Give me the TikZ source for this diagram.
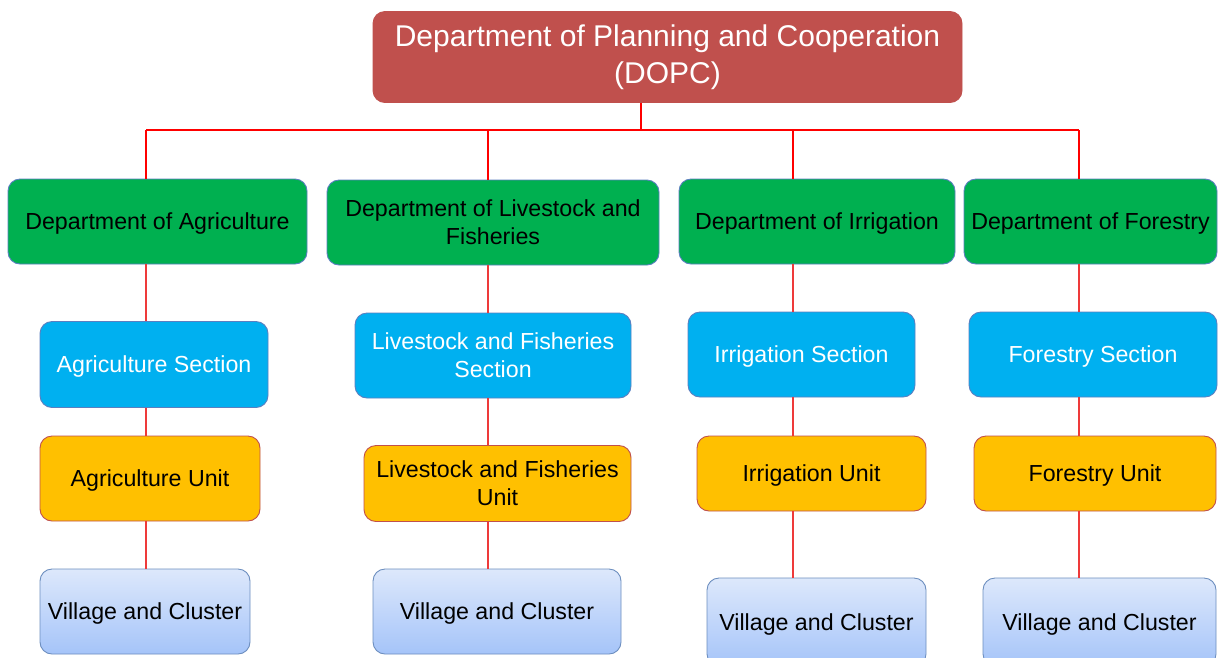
\documentclass[tikz,border=0pt]{standalone}
\usepackage{fontspec}
\setmainfont{Liberation Sans}
\definecolor{topred}{HTML}{C0504D}
\definecolor{dgreen}{HTML}{00B050}
\definecolor{sblue}{HTML}{00B0F0}
\definecolor{uorange}{HTML}{FFC000}
\definecolor{bblue}{HTML}{5B7FC0}
\definecolor{vtop}{HTML}{DDE8FB}
\definecolor{vbot}{HTML}{A5C4F9}
\definecolor{vborder}{HTML}{6C8EBF}
\definecolor{linkred}{HTML}{EE3A3A}
\tikzset{
  box/.style={rectangle, rounded corners=12pt, inner sep=0pt, align=center, line width=0.9pt, font=\fontsize{23.2}{28}\selectfont},
  oneline/.style={text depth=0pt},
  topbox/.style={box, fill=topred, draw=topred, text=white, font=\fontsize{30}{37}\selectfont},
  deptbox/.style={box, fill=dgreen, draw=bblue, text=black},
  secbox/.style={box, fill=sblue, draw=bblue, text=white},
  unitbox/.style={box, fill=uorange, draw=topred, text=black},
  villbox/.style={box, top color=vtop, bottom color=vbot, draw=vborder, text=black},
  mainlink/.style={draw=red, line width=1.5pt},
  link/.style={draw=linkred, line width=1.1pt}
}
\begin{document}
\begin{tikzpicture}[x=1pt,y=-1pt]
\clip (0,0) rectangle (1225,657);
\fill[white] (0,0) rectangle (1225,657);
% top
\node[topbox, minimum width=589pt, minimum height=91pt] (top) at (667.5,57) {Department of Planning and Cooperation\\(DOPC)};
% departments
\node[deptbox, oneline, minimum width=299pt, minimum height=85pt] (dA) at (157.5,221.5) {Department of Agriculture};
\node[deptbox, minimum width=332pt, minimum height=85pt] (dL) at (493,222.5) {Department of Livestock and\\Fisheries};
\node[deptbox, oneline, minimum width=276pt, minimum height=85pt] (dI) at (817,221.5) {Department of Irrigation};
\node[deptbox, oneline, minimum width=253pt, minimum height=85pt] (dF) at (1090.5,221.5) {Department of Forestry};
% sections
\node[secbox, oneline, minimum width=228pt, minimum height=86pt] (sA) at (154,364.5) {Agriculture Section};
\node[secbox, minimum width=276pt, minimum height=85pt] (sL) at (493,355.5) {Livestock and Fisheries\\Section};
\node[secbox, oneline, minimum width=227pt, minimum height=85pt] (sI) at (801.5,354.5) {Irrigation Section};
\node[secbox, oneline, minimum width=248pt, minimum height=85pt] (sF) at (1093,354.5) {Forestry Section};
% units
\node[unitbox, oneline, minimum width=220pt, minimum height=85pt] (uA) at (150,478.5) {Agriculture Unit};
\node[unitbox, minimum width=267pt, minimum height=76pt] (uL) at (497.5,483.5) {Livestock and Fisheries\\Unit};
\node[unitbox, oneline, minimum width=229pt, minimum height=75pt] (uI) at (811.5,473.5) {Irrigation Unit};
\node[unitbox, oneline, minimum width=242pt, minimum height=75pt] (uF) at (1095,473.5) {Forestry Unit};
% villages
\node[villbox, oneline, minimum width=210pt, minimum height=85pt] (vA) at (145,611.5) {Village and Cluster};
\node[villbox, oneline, minimum width=248pt, minimum height=85pt] (vL) at (497,611.5) {Village and Cluster};
\node[villbox, oneline, minimum width=219pt, minimum height=88pt] (vI) at (816.5,622) {Village and Cluster};
\node[villbox, oneline, minimum width=233pt, minimum height=88pt] (vF) at (1099.5,622) {Village and Cluster};
% connector anchors
\coordinate (hub) at (641,130);
\coordinate (cA) at (146,130);
\coordinate (cL) at (488,130);
\coordinate (cI) at (793,130);
\coordinate (cF) at (1079,130);
% top connectors
\draw[mainlink] (top.south -| hub) -- (hub);
\draw[mainlink] (cA) -- (cF);
\foreach \c/\d in {cA/dA, cL/dL, cI/dI, cF/dF}{
  \draw[mainlink] (\c) -- (\d.north -| \c);
}
% column connectors
\foreach \c/\d/\s/\u/\v in {cA/dA/sA/uA/vA, cL/dL/sL/uL/vL, cI/dI/sI/uI/vI, cF/dF/sF/uF/vF}{
  \draw[link] (\d.south -| \c) -- (\s.north -| \c);
  \draw[link] (\s.south -| \c) -- (\u.north -| \c);
  \draw[link] (\u.south -| \c) -- (\v.north -| \c);
}
\end{tikzpicture}
\end{document}
